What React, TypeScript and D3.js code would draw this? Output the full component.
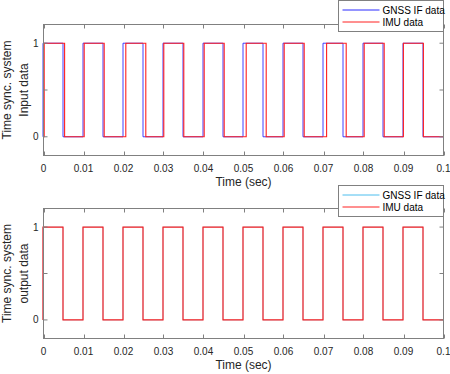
import React from 'react';
import * as d3 from 'd3';

// transition times (sec), with the level after each one
const gnssTimes = [0, 0, 0.005, 0.01, 0.015, 0.02, 0.025, 0.03, 0.035, 0.04, 0.045, 0.05, 0.055, 0.06, 0.065, 0.07, 0.075, 0.08, 0.085, 0.09, 0.095, 0.1];
const gnssLevels = [0, 1, 0, 1, 0, 1, 0, 1, 0, 1, 0, 1, 0, 1, 0, 1, 0, 1, 0, 1, 0, 0];
const imuTimes = [0, 0.0003, 0.0054, 0.0103, 0.0153, 0.0207, 0.0257, 0.0302, 0.0352, 0.0403, 0.0453, 0.0508, 0.0558, 0.0603, 0.0653, 0.0709, 0.0758, 0.0803, 0.0853, 0.0901, 0.0951, 0.1];
const imuLevels = [0, 1, 0, 1, 0, 1, 0, 1, 0, 1, 0, 1, 0, 1, 0, 1, 0, 1, 0, 1, 0, 0];
// after sync both streams sit on the GNSS edges
const outTimes = gnssTimes;
const outLevels = gnssLevels;

const xTicks = [0, 0.01, 0.02, 0.03, 0.04, 0.05, 0.06, 0.07, 0.08, 0.09, 0.1];
const xTickLabels = ['0', '0.01', '0.02', '0.03', '0.04', '0.05', '0.06', '0.07', '0.08', '0.09', '0.1'];
const yTicks = [0, 0.5, 1];
const yTickLabels = ['0', '', '1'];
const legendNames = ['GNSS IF data', 'IMU data'];

const FONT = '"Liberation Sans", Arial, Helvetica, sans-serif';
const AXIS = '#808080';

type Series = { times: number[]; levels: number[]; color: string; width: number };

const Panel: React.FC<{ top: number; bottom: number; ylabel: string[]; series: Series[]; legendColors: string[]; legendTop: number }> = ({ top, bottom, ylabel, series, legendColors, legendTop }) => {
  const left = 43.5;
  const right = 443.5;
  const x = d3.scaleLinear().domain([0, 0.1]).range([left, right]);
  // data lines sit off the pixel grid, so the edges blur over two pixels as in the reference
  const xd = d3.scaleLinear().domain([0, 0.1]).range([43, 443]);
  const y = d3.scaleLinear().domain([-0.2, 1.2]).range([bottom, top]);
  const line = d3.line<[number, number]>().x(d => xd(d[0])).y(d => y(d[1])).curve(d3.curveStepAfter);
  const midY = (top + bottom) / 2;
  const tl = 4;

  return (
    <g>
      <rect x={left} y={top} width={right - left} height={bottom - top} fill="#fff" />
      {series.map((s, i) => (
        <path key={i} d={line(s.times.map((t, k) => [t, s.levels[k]] as [number, number])) || ''}
          fill="none" stroke={s.color} strokeWidth={s.width} />
      ))}
      <rect x={left} y={top} width={right - left} height={bottom - top} fill="none" stroke={AXIS} strokeWidth={1} />
      {xTicks.map((t, i) => (
        <g key={'x' + i}>
          <line x1={Math.round(x(t)) + 0.5} x2={Math.round(x(t)) + 0.5} y1={bottom} y2={bottom - tl} stroke={AXIS} />
          <line x1={Math.round(x(t)) + 0.5} x2={Math.round(x(t)) + 0.5} y1={top} y2={top + tl} stroke={AXIS} />
          <text x={x(t)} y={bottom + 16} textAnchor="middle" fontSize={10} fill="#262626" fontFamily={FONT}>{xTickLabels[i]}</text>
        </g>
      ))}
      {yTicks.map((v, i) => (
        <g key={'y' + i}>
          <line x1={left} x2={left + tl} y1={y(v)} y2={y(v)} stroke={AXIS} />
          <line x1={right} x2={right - tl} y1={y(v)} y2={y(v)} stroke={AXIS} />
          <text x={left - 5} y={y(v) + 3.5} textAnchor="end" fontSize={10} fill="#262626" fontFamily={FONT}>{yTickLabels[i]}</text>
        </g>
      ))}
      <text x={(left + right) / 2} y={bottom + 30} textAnchor="middle" fontSize={12} fill="#262626" fontFamily={FONT}>Time (sec)</text>
      <text transform={`translate(11,${midY}) rotate(-90)`} textAnchor="middle" fontSize={12} fill="#262626" fontFamily={FONT}>{ylabel[0]}</text>
      <text transform={`translate(28,${midY}) rotate(-90)`} textAnchor="middle" fontSize={12} fill="#262626" fontFamily={FONT}>{ylabel[1]}</text>
      <g transform={`translate(338.5,${legendTop})`}>
        <rect x={0} y={0} width={105} height={31} fill="#fff" stroke={AXIS} strokeWidth={1} />
        {legendNames.map((n, i) => (
          <g key={n}>
            <line x1={4} x2={41} y1={9.5 + i * 12} y2={9.5 + i * 12} stroke={legendColors[i]} />
            <text x={44} y={13 + i * 12} fontSize={10} fill="#000" fontFamily={FONT}>{n}</text>
          </g>
        ))}
      </g>
    </g>
  );
};

export default function App() {
  return (
    <svg width={450} height={374} style={{ position: 'absolute', left: 0, top: 0, background: '#fff' }}>
      <rect width={450} height={374} fill="#fff" />
      <Panel top={24.5} bottom={155.5} ylabel={['Time sync. system', 'Input data']}
        series={[{ times: gnssTimes, levels: gnssLevels, color: '#2a2aff', width: 0.9 }, { times: imuTimes, levels: imuLevels, color: '#ff2020', width: 1.1 }]}
        legendColors={['#2a2aff', '#ff2020']} legendTop={0.5} />
      <Panel top={208.5} bottom={338.5} ylabel={['Time sync. system', 'output data']}
        series={[{ times: outTimes, levels: outLevels, color: '#4dbeee', width: 0.6 }, { times: outTimes, levels: outLevels, color: '#ff2020', width: 1.2 }]}
        legendColors={['#4dbeee', '#ff2020']} legendTop={185.5} />
    </svg>
  );
}
